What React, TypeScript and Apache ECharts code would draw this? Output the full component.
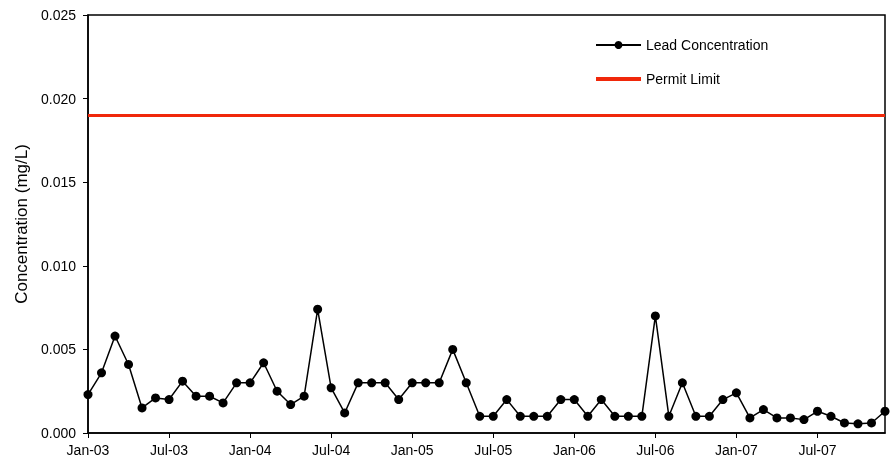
import React, { useEffect, useRef } from "react";
import * as echarts from "echarts";

const MONTHS = ["Jan", "Feb", "Mar", "Apr", "May", "Jun", "Jul", "Aug", "Sep", "Oct", "Nov", "Dec"];
const YEARS = ["03", "04", "05", "06", "07"];
const CATEGORIES: string[] = YEARS.flatMap((y) => MONTHS.map((m) => `${m}-${y}`));

const LEAD_CONCENTRATION = [
  0.0023, 0.0036, 0.0058, 0.0041, 0.0015, 0.0021,
  0.0020, 0.0031, 0.0022, 0.0022, 0.0018, 0.0030,
  0.0030, 0.0042, 0.0025, 0.0017, 0.0022, 0.0074,
  0.0027, 0.0012, 0.0030, 0.0030, 0.0030, 0.0020,
  0.0030, 0.0030, 0.0030, 0.0050, 0.0030, 0.0010,
  0.0010, 0.0020, 0.0010, 0.0010, 0.0010, 0.0020,
  0.0020, 0.0010, 0.0020, 0.0010, 0.0010, 0.0010,
  0.0070, 0.0010, 0.0030, 0.0010, 0.0010, 0.0020,
  0.0024, 0.0009, 0.0014, 0.0009, 0.0009, 0.0008,
  0.0013, 0.0010, 0.0006, 0.00055, 0.0006, 0.0013,
];

const PERMIT_LIMIT = 0.019;
const FONT = "'Liberation Sans', Arial, sans-serif";
const RED = "#f0280a";

export default function App() {
  const ref = useRef<HTMLDivElement>(null);
  useEffect(() => {
    if (!ref.current) return;
    const chart = echarts.init(ref.current, undefined, { renderer: "svg" });
    chart.setOption({
      animation: false,
      textStyle: { fontFamily: FONT, color: "#000" },
      grid: {
        left: 88,
        right: 5,
        top: 15,
        bottom: 32,
        show: true,
        borderColor: "#000",
        borderWidth: 1.5,
        backgroundColor: "transparent",
      },
      legend: {
        orient: "vertical",
        left: 589,
        top: 33,
        itemWidth: 45,
        itemHeight: 10,
        itemGap: 20,
        textStyle: { fontFamily: FONT, fontSize: 14, color: "#000" },
        data: [
          { name: "Lead Concentration" },
          { name: "Permit Limit", itemStyle: { opacity: 0 }, lineStyle: { width: 4, color: RED } },
        ],
      },
      xAxis: {
        type: "category",
        data: CATEGORIES,
        boundaryGap: false,
        axisLine: { lineStyle: { color: "#000", width: 1.5 } },
        axisTick: { interval: 5, length: 5, lineStyle: { color: "#000", width: 1 } },
        axisLabel: { interval: 5, margin: 10, fontSize: 14, color: "#000", fontFamily: FONT },
        splitLine: { show: false },
      },
      yAxis: {
        type: "value",
        min: 0,
        max: 0.025,
        interval: 0.005,
        name: "Concentration (mg/L)",
        nameLocation: "middle",
        nameGap: 55,
        nameTextStyle: { fontSize: 17, color: "#000", fontFamily: FONT },
        axisLine: { show: true, lineStyle: { color: "#000", width: 1.5 } },
        axisTick: { show: true, length: 5, lineStyle: { color: "#000", width: 1 } },
        axisLabel: {
          margin: 12,
          fontSize: 14,
          color: "#000",
          fontFamily: FONT,
          formatter: (v: number) => v.toFixed(3),
        },
        splitLine: { show: false },
      },
      series: [
        {
          name: "Lead Concentration",
          type: "line",
          data: LEAD_CONCENTRATION,
          symbol: "circle",
          symbolSize: 9,
          showAllSymbol: true,
          color: "#000",
          itemStyle: { color: "#000" },
          lineStyle: { color: "#000", width: 1.5 },
          z: 3,
        },
        {
          name: "Permit Limit",
          type: "line",
          data: [],
          symbol: "none",
          color: RED,
          lineStyle: { color: RED, width: 3.5 },
          markLine: {
            silent: true,
            symbol: "none",
            precision: 4,
            label: { show: false },
            lineStyle: { color: RED, width: 3, type: "solid" },
            data: [{ yAxis: PERMIT_LIMIT }],
          },
          z: 2,
        },
      ],
    });
    return () => chart.dispose();
  }, []);
  return (
    <div
      ref={ref}
      style={{ position: "fixed", left: 0, top: 0, width: 890, height: 465 }}
    />
  );
}
